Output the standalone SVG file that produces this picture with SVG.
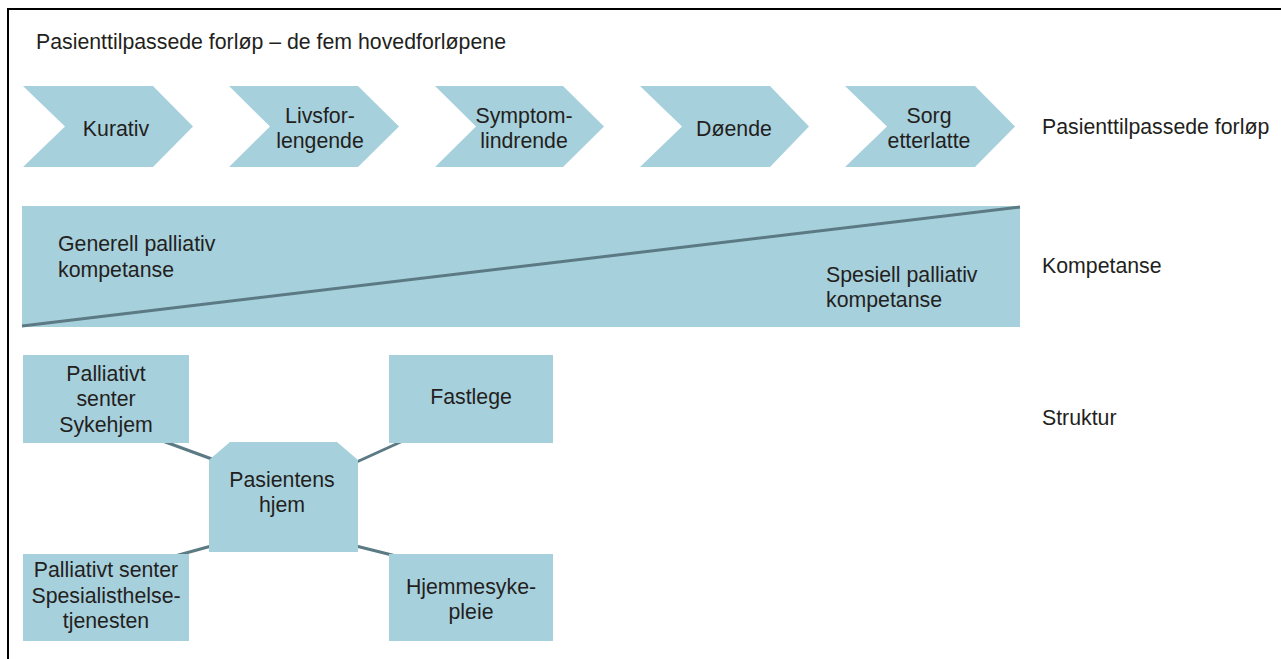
<svg xmlns="http://www.w3.org/2000/svg" width="1281" height="659" viewBox="0 0 1281 659">
<style>
.t{font-family:"Liberation Sans",Arial,sans-serif;font-size:21.3px;fill:#231f20}
.c{text-anchor:middle}
.n{fill:#a7d0dd}
.ln{stroke:#5b7a84;stroke-width:3;fill:none}
</style>
<rect x="0" y="0" width="1281" height="659" fill="#ffffff"/>
<path d="M8,659 V9 H1281" fill="none" stroke="#000" stroke-width="2"/>
<text class="t" x="36" y="49">Pasienttilpassede forløp – de fem hovedforløpene</text>
<g id="chev1"><polygon class="n" points="23,86 153,86 193,126.5 153,167 23,167 65,126.5"/><text class="t c" x="116" y="136">Kurativ</text></g>
<g id="chev2"><polygon class="n" points="229,86 358,86 399,126.5 358,167 229,167 270,126.5"/><text class="t c" x="320" y="123">Livsfor-</text><text class="t c" x="320" y="148">lengende</text></g>
<g id="chev3"><polygon class="n" points="435,86 563,86 604,126.5 563,167 435,167 476,126.5"/><text class="t c" x="524" y="123">Symptom-</text><text class="t c" x="524" y="148">lindrende</text></g>
<g id="chev4"><polygon class="n" points="640,86 770,86 809,126.5 770,167 640,167 682,126.5"/><text class="t c" x="734" y="136">Døende</text></g>
<g id="chev5"><polygon class="n" points="845,86 975,86 1015,126.5 975,167 845,167 887,126.5"/><text class="t c" x="929" y="123">Sorg</text><text class="t c" x="929" y="148">etterlatte</text></g>
<text class="t" x="1042" y="134">Pasienttilpassede forløp</text>
<g id="kompetanse">
<rect class="n" x="22" y="206" width="998" height="121"/>
<line class="ln" x1="22" y1="326" x2="1020" y2="207"/>
<text class="t" x="58" y="251">Generell palliativ</text>
<text class="t" x="58" y="277">kompetanse</text>
<text class="t" x="826" y="282">Spesiell palliativ</text>
<text class="t" x="826" y="307">kompetanse</text>
</g>
<text class="t" x="1042" y="273">Kompetanse</text>
<text class="t" x="1042" y="425">Struktur</text>
<g id="connectors">
<line class="ln" x1="160" y1="440" x2="220" y2="462"/>
<line class="ln" x1="350" y1="465" x2="405" y2="440"/>
<line class="ln" x1="175" y1="556" x2="215" y2="545"/>
<line class="ln" x1="352" y1="545" x2="400" y2="557"/>
</g>
<g id="sykehjem"><rect class="n" x="23" y="355" width="166" height="88"/><text class="t c" x="106" y="381">Palliativt</text><text class="t c" x="106" y="406">senter</text><text class="t c" x="106" y="432">Sykehjem</text></g>
<g id="fastlege"><rect class="n" x="389" y="355" width="164" height="88"/><text class="t c" x="471" y="404">Fastlege</text></g>
<g id="hjem"><polygon class="n" points="230,442 337,442 358,460 358,552 209,552 209,460"/><text class="t c" x="282" y="487">Pasientens</text><text class="t c" x="282" y="512">hjem</text></g>
<g id="spesialist"><rect class="n" x="23" y="554" width="166" height="87"/><text class="t c" x="106" y="577">Palliativt senter</text><text class="t c" x="106" y="603">Spesialisthelse-</text><text class="t c" x="106" y="628">tjenesten</text></g>
<g id="hjemmesykepleie"><rect class="n" x="389" y="554" width="164" height="87"/><text class="t c" x="471" y="594">Hjemmesyke-</text><text class="t c" x="471" y="619">pleie</text></g>
</svg>
